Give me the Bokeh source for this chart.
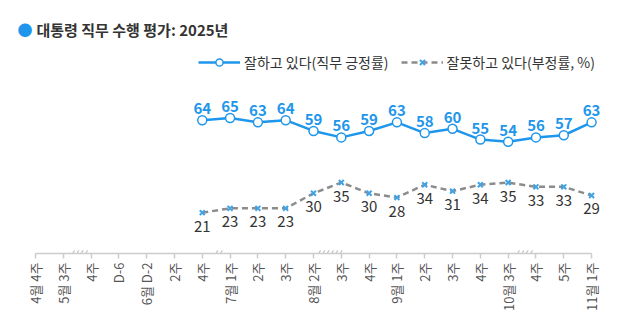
import numpy as np
from bokeh.plotting import figure
from bokeh.models import (ColumnDataSource, Legend, LegendItem, Label,
                          FixedTicker, Range1d)
from bokeh.core.properties import value
from bokeh.embed import file_html
from bokeh.resources import INLINE

# ---- data ----
tick_labels = ["4월 4주", "5월 3주", "4주", "D-6", "6월 D-2", "2주", "4주",
               "7월 1주", "2주", "3주", "8월 2주", "3주", "4주", "9월 1주",
               "2주", "3주", "4주", "10월 3주", "4주", "5주", "11월 1주"]
data_start = 6  # first category index with survey values
approve = [64, 65, 63, 64, 59, 56, 59, 63, 58, 60, 55, 54, 56, 57, 63]
disapprove = [21, 23, 23, 23, 30, 35, 30, 28, 34, 31, 34, 35, 33, 33, 29]
break_after = [1, 6, 10, 17]
break_marks = ["////", "//", "//////", "////"]
title_text = "대통령 직무 수행 평가: 2025년"
label_approve = "잘하고 있다(직무 긍정률)"
label_disapprove = "잘못하고 있다(부정률, %)"

FONT = "Noto Sans CJK KR"
BLUE = "#1E96EB"
XBLUE = "#3FA3E6"
GRAY = "#8C8C8C"

W, H = 640, 328
FRAME_RIGHT = 605
FRAME_BOTTOM = 253
n = len(tick_labels)
step = (FRAME_RIGHT - 21) / n          # pixel width of one category
x_start = -0.5 - 21 / step              # frame begins at the canvas edge
px_per_unit = 2.15
y_start = 2
y_end = y_start + FRAME_BOTTOM / px_per_unit

xs = list(range(data_start, data_start + len(approve)))
src = ColumnDataSource(dict(
    x=xs, a=approve, d=disapprove,
    at=[str(v) for v in approve], dt=[str(v) for v in disapprove]))

p = figure(width=W, height=H, output_backend="svg", toolbar_location=None,
           title=None,
           x_range=Range1d(x_start, n - 0.5),
           y_range=Range1d(y_start, y_end), y_axis_location=None,
           min_border_left=0, min_border_right=W - FRAME_RIGHT,
           min_border_top=0, min_border_bottom=H - FRAME_BOTTOM)
p.outline_line_color = None
p.xgrid.visible = False
p.ygrid.visible = False

ax = p.xaxis[0]
ax.ticker = FixedTicker(ticks=list(range(n)))
ax.major_label_overrides = {i: t for i, t in enumerate(tick_labels)}
ax.major_label_orientation = np.pi / 2
ax.bounds = (0, n - 1)
ax.axis_line_color = "#CCCCCC"
ax.axis_line_width = 1.5
ax.major_tick_line_color = "#CCCCCC"
ax.major_tick_line_width = 1.5
ax.major_tick_out = 5
ax.major_tick_in = 0
ax.minor_tick_line_color = None
ax.major_label_text_font = FONT
ax.major_label_text_font_size = "13px"
ax.major_label_text_color = "#555555"
ax.major_label_standoff = 4

l1 = p.line("x", "a", source=src, line_color=BLUE, line_width=2.5)
s1 = p.scatter("x", "a", source=src, marker="circle", size=9,
               fill_color="white", line_color=BLUE, line_width=1.5)
l2 = p.line("x", "d", source=src, line_color=GRAY, line_width=2.5,
            line_dash="6 4")
s2 = p.scatter("x", "d", source=src, marker="x", size=7,
               line_color=XBLUE, line_width=2)

p.text("x", "a", text="at", source=src, text_align="center",
       text_baseline="bottom", y_offset=-6, text_font=value(FONT),
       text_font_size="15px", text_font_style="bold", text_color=BLUE)
p.text("x", "d", text="dt", source=src, text_align="center",
       text_baseline="top", y_offset=8, text_font=value(FONT),
       text_font_size="15px", text_color="#333333")

bsrc = ColumnDataSource(dict(x=[b + 0.5 for b in break_after],
                             y=[y_start] * len(break_after), t=break_marks))
p.text("x", "y", text="t", source=bsrc, text_align="center",
       text_baseline="middle", text_font=value(FONT), text_font_size="11px",
       text_font_style="italic", text_color="#999999")

legend = Legend(items=[LegendItem(label=label_approve, renderers=[l1, s1]),
                       LegendItem(label=label_disapprove, renderers=[l2, s2])],
                orientation="horizontal", location=(198, FRAME_BOTTOM - 72),
                glyph_width=42, glyph_height=18, label_standoff=4, spacing=12,
                label_text_font=FONT, label_text_font_size="14px",
                label_text_color="#333333", border_line_color=None,
                background_fill_alpha=0, padding=0, margin=0)
p.add_layout(legend)

p.add_layout(Label(x=24.5, y=FRAME_BOTTOM - 28.5, x_units="screen",
                   y_units="screen", text="●", text_color=BLUE,
                   text_font=FONT, text_font_size="15px",
                   text_baseline="middle", text_align="center"))
p.add_layout(Label(x=36, y=FRAME_BOTTOM - 29, x_units="screen",
                   y_units="screen", text=title_text, text_color="#333333",
                   text_font=FONT, text_font_size="15px",
                   text_font_style="bold", text_baseline="middle"))

open("out.html", "w").write(file_html(p, INLINE))
